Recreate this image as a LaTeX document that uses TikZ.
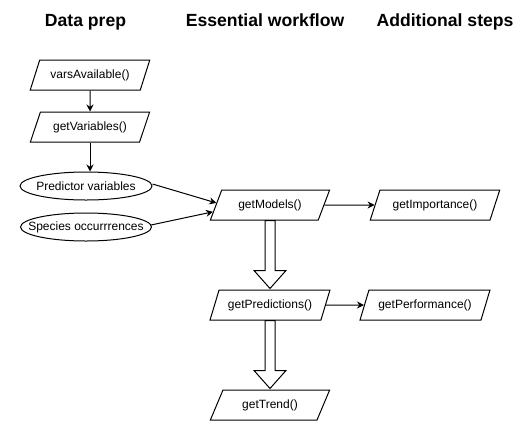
\documentclass[tikz,border=0pt]{standalone}
\usepackage{fontspec}
\setmainfont{Liberation Sans}
\usetikzlibrary{shapes.geometric,arrows.meta,calc}
\begin{document}
\begin{tikzpicture}[x=1pt,y=-1pt,line width=1pt,
  para/.style={draw,trapezium,trapezium left angle=56.31,trapezium right angle=123.69,
    trapezium stretches=true,minimum height=30pt,inner sep=0pt,font=\fontsize{12}{14}\selectfont},
  oval/.style={draw,ellipse,minimum height=28pt,inner sep=0pt,font=\fontsize{12}{14}\selectfont},
  title/.style={anchor=base,font=\fontsize{17.6}{20}\selectfont\bfseries},
  conn/.style={-{Stealth[length=7pt,width=7pt]}},
  blockarrow/.style={draw,fill=white,line width=1pt}]
\useasboundingbox (0,0) rectangle (530,421);
\node[title] (t1) at (85.5,26.5) {Data prep};
\node[title] (t2) at (265,26.5) {Essential workflow};
\node[title] (t3) at (445,26.5) {Additional steps};

\node[para,minimum width=120pt] (va) at (90,75) {varsAvailable()};
\node[para,minimum width=120pt] (gv) at (90,127) {getVariables()};
\node[oval,minimum width=132pt] (pv) at (86,186) {\makebox[0pt]{Predictor variables}};
\node[oval,minimum width=131pt] (so) at (86,227) {\makebox[0pt]{Species occurrrences}};
\node[para,minimum width=120pt] (gm) at (270,205) {getModels()};
\node[para,minimum width=130pt] (gi) at (435,205) {getImportance()};
\node[para,minimum width=120pt] (gp) at (270,305) {getPredictions()};
\node[para,minimum width=130pt] (gf) at (425,305) {getPerformance()};
\node[para,minimum width=120pt] (gt) at (270,405) {getTrend()};

\draw[conn] (va.south) -- (gv.north);
\draw[conn] (gv.south) -- (gv.south |- pv.north);
\coordinate (gmA) at ($(gm.bottom left corner)!0.567!(gm.top left corner)$);
\coordinate (gmB) at ($(gm.bottom left corner)!0.28!(gm.top left corner)$);
\draw[conn] ($(pv.east)+(0,-2)$) -- (gmA);
\draw[conn] ($(so.east)+(-1,-2)$) -- (gmB);
\draw[conn] (gm.east) -- (gi.west);
\draw[conn] (gp.east) -- (gf.west);

\draw[blockarrow] ($(gm.south)+(-5,0)$) -- ($(gm.south)+(5,0)$) -- ($(gm.south)+(5,50)$)
  -- ($(gm.south)+(16,50)$) -- ($(gp.north)+(0,-1)$) -- ($(gm.south)+(-16,50)$)
  -- ($(gm.south)+(-5,50)$) -- cycle;
\draw[blockarrow] ($(gp.south)+(-5,0)$) -- ($(gp.south)+(5,0)$) -- ($(gp.south)+(5,50)$)
  -- ($(gp.south)+(16,50)$) -- ($(gt.north)+(0,-1)$) -- ($(gp.south)+(-16,50)$)
  -- ($(gp.south)+(-5,50)$) -- cycle;
\end{tikzpicture}
\end{document}
